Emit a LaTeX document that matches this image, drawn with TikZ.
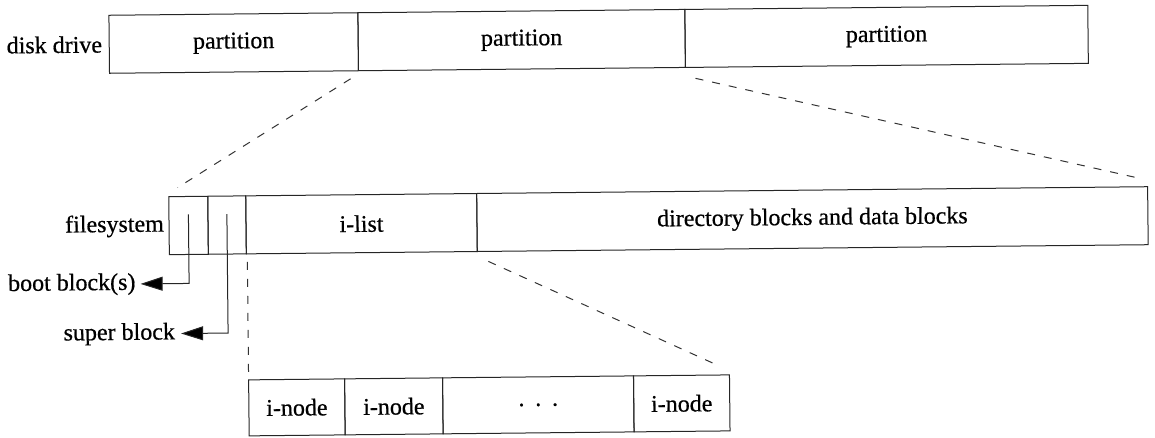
\documentclass[tikz,border=0pt]{standalone}
\usepackage{fontspec}
\setmainfont{Liberation Serif}
\newfontfamily\heavyserif{Liberation Serif}[FakeBold=0.6]
\usetikzlibrary{arrows.meta}
\begin{document}
\begin{tikzpicture}[x=1pt,y=-1pt,
  txt/.style={font=\heavyserif\fontsize{24}{28}\selectfont},
  cell/.style={draw=black!85, line width=1pt, inner sep=0pt, outer sep=0pt,
    anchor=north west, txt},
  bar1/.style={cell, minimum height=58pt},
  bar2/.style={cell, minimum height=58pt},
  bar3/.style={cell, minimum height=56pt},
  lbl/.style={txt, inner sep=0pt, anchor=east},
  guide/.style={draw=black!80, dash pattern=on 8pt off 9pt, line width=1pt},
  pointer/.style={draw=black!85, line width=1pt,
    -{Triangle[length=22pt,width=14pt,fill=black]}}]
\useasboundingbox (0,0) rectangle (1155,438);
\begin{scope}[rotate around={0.58:(630,220)}, transform shape]
  % disk drive
  \node[bar1, minimum width=249pt] (p1) at (111,10) {partition};
  \node[bar1, minimum width=327pt] (p2) at (p1.north east) {partition};
  \node[bar1, minimum width=403pt] (p3) at (p2.north east) {partition};
  \node[lbl] (disk) at ([xshift=-7pt]p1.west) {disk drive};
  % filesystem
  \node[bar2, minimum width=39pt] (bb) at (169,192) {};
  \node[bar2, minimum width=38pt] (sb) at (bb.north east) {};
  \node[bar2, minimum width=231pt] (il) at (sb.north east) {i-list};
  \node[bar2, minimum width=671pt] (db) at (il.north east) {directory blocks and data blocks};
  \node[lbl] (fs) at ([xshift=-5pt]bb.west) {filesystem};
  % i-nodes
  \node[bar3, minimum width=96pt] (n1) at (247,376) {i-node};
  \node[bar3, minimum width=98pt] (n2) at (n1.north east) {i-node};
  \node[bar3, minimum width=191pt] (n3) at (n2.north east) {.\hspace{0.45em}.\hspace{0.45em}.};
  \node[bar3, minimum width=96pt] (n4) at (n3.north east) {i-node};
  % labels with pointers
  \node[lbl] (boot) at (135,279) {boot block(s)};
  \node[lbl] (super) at (174,329) {super block};
  \coordinate (bootsrc) at ([yshift=11pt]bb.center);
  \coordinate (supersrc) at ([yshift=11pt]sb.center);
  \draw[pointer] (bootsrc) |- ([xshift=5pt]boot.east);
  \draw[pointer] (supersrc) |- ([xshift=6pt]super.east);
  % dashed guides
  \coordinate (g1a) at (352,76);  \coordinate (g1b) at (178,183);
  \coordinate (g2a) at (697,79);  \coordinate (g2b) at (1138,183);
  \coordinate (g3a) at (247,258); \coordinate (g3b) at (247,370);
  \coordinate (g4a) at (488,260); \coordinate (g4b) at (718,367);
  \draw[guide] (g1a) -- (g1b);
  \draw[guide] (g2a) -- (g2b);
  \draw[guide] (g3a) -- (g3b);
  \draw[guide] (g4a) -- (g4b);
\end{scope}
\end{tikzpicture}
\end{document}
